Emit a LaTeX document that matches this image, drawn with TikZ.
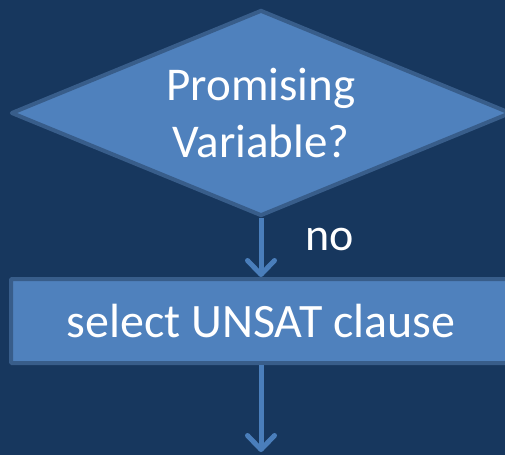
\documentclass[tikz,border=0pt]{standalone}
\usepackage{fontspec}
\setmainfont{Carlito}
\usetikzlibrary{shapes.geometric,arrows.meta}
\definecolor{bgnavy}{HTML}{17375E}
\definecolor{shapefill}{HTML}{4F81BD}
\definecolor{shapeedge}{HTML}{385D8A}
\definecolor{linkblue}{HTML}{4A7EBB}
\tikzset{
  x=1pt, y=1pt,
  decision/.style={diamond, draw=shapeedge, fill=shapefill, line width=4pt,
    line join=round, inner sep=0pt, aspect=2.43,
    minimum width=500pt, minimum height=206pt,
    text=white, align=center,
    font=\fontsize{47}{57}\selectfont},
  process/.style={rectangle, draw=shapeedge, fill=shapefill, line width=4pt,
    rounded corners=1pt, inner sep=0pt,
    minimum width=500pt, minimum height=84pt,
    text=white, font=\fontsize{48}{57}\selectfont},
  flow/.style={draw=linkblue, line width=5pt,
    -{Straight Barb[length=14pt,width=27pt,line cap=round,line join=round]}},
  lbl/.style={text=white, font=\fontsize{46}{56}\selectfont}
}
\begin{document}
\begin{tikzpicture}
  \fill[bgnavy] (0,0) rectangle (505,-455);
  \useasboundingbox (0,0) rectangle (505,-455);
  \node[decision] (q) at (261,-113) {Promising\\Variable?};
  \node[process] (sel) at (261,-321) {select UNSAT clause};
  \node[lbl] (no) at (330,-240) {no};
  \coordinate (out) at (261,-452);
  \draw[flow] (q.south) -- (sel.north);
  \draw[flow] (sel.south) -- (out);
\end{tikzpicture}
\end{document}
